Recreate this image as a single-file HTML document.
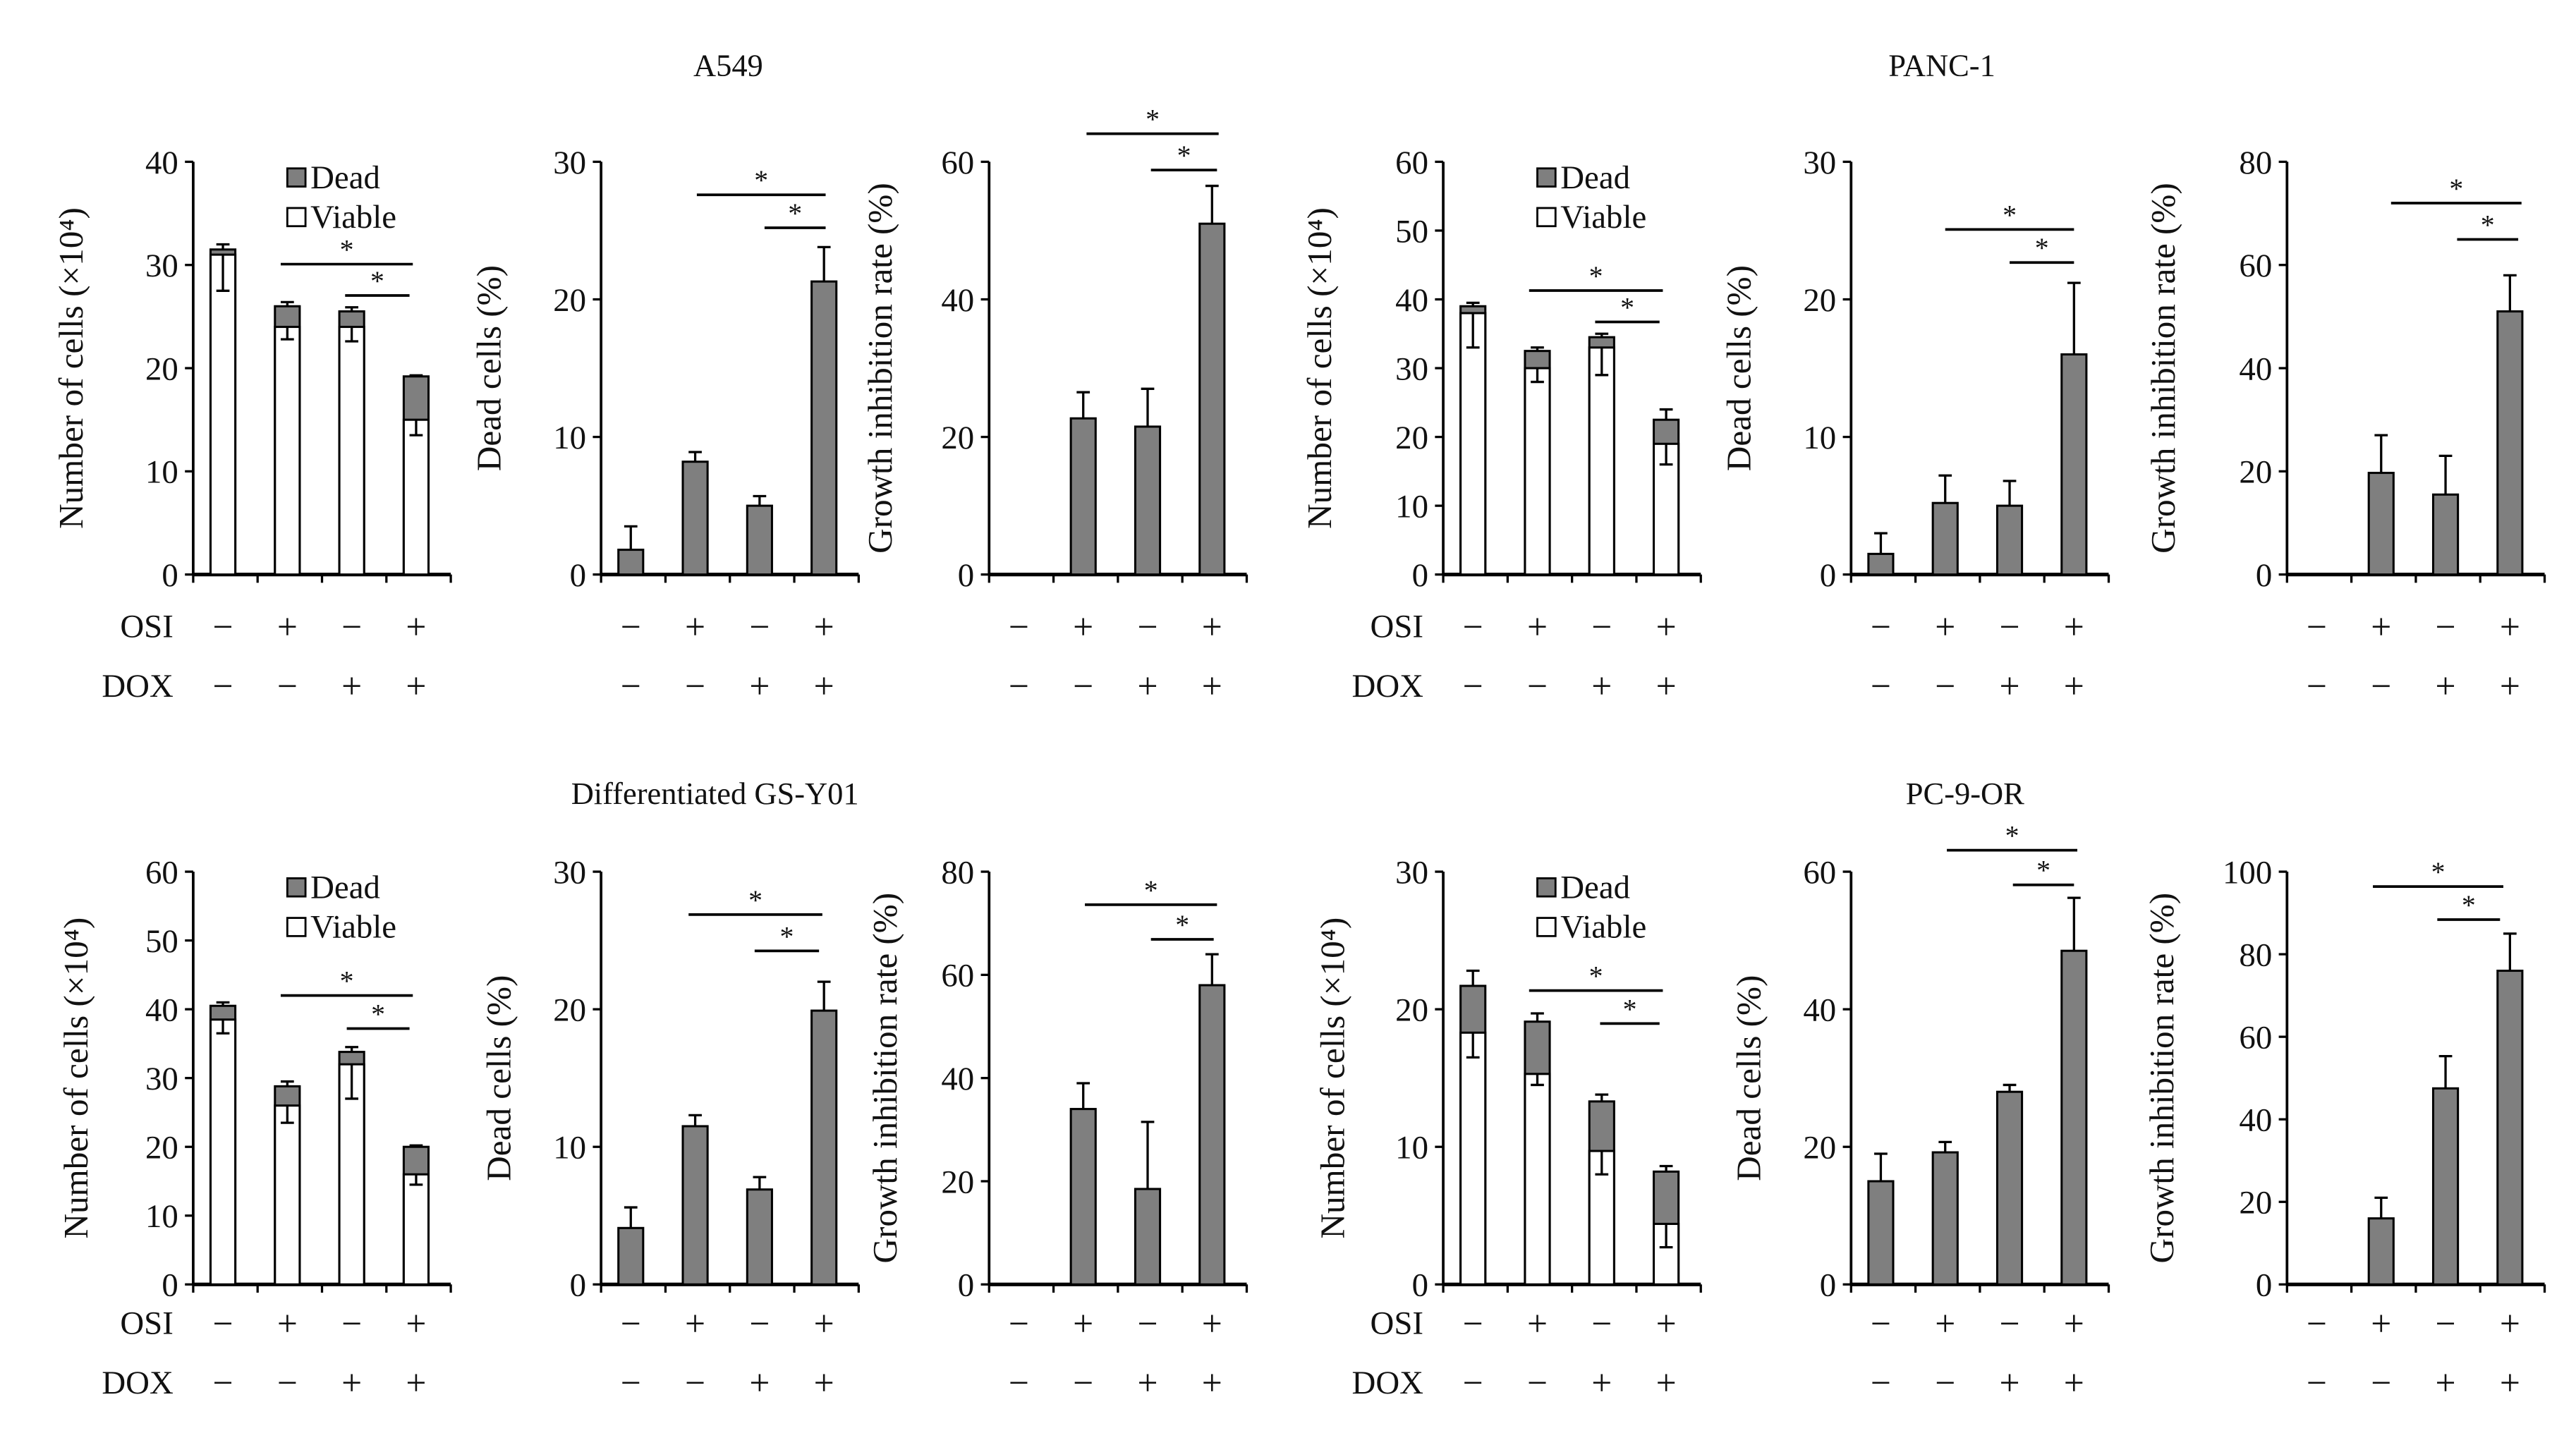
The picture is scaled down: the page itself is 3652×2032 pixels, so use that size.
<!DOCTYPE html>
<html><head><meta charset="utf-8"><style>
html,body{margin:0;padding:0;background:#fff}
svg{display:block}
text{font-family:"Liberation Serif",serif;fill:#111}
</style></head><body>
<svg id="fig" width="3652" height="2032" viewBox="0 0 1560 868" preserveAspectRatio="none">
<text x="441" y="46" font-size="19" text-anchor="middle">A549</text>
<text x="1176" y="46" font-size="19" text-anchor="middle">PANC-1</text>
<text x="433" y="487" font-size="19" text-anchor="middle">Differentiated GS-Y01</text>
<text x="1190" y="487" font-size="19" text-anchor="middle">PC-9-OR</text>
</svg>
<script>
// ---- data ----
const osiRow = ['−','+','−','+'];
const doxRow = ['−','−','+','+'];
const a549Viable = [31, 24, 24, 15];
const a549Total = [31.5, 26, 25.5, 19.2];
const a549ViableLo = [27.5, 22.8, 22.6, 13.5];
const a549TotalHi = [32, 26.4, 25.9, 19.3];
const a549Dead = [1.8, 8.2, 5, 21.3];
const a549DeadHi = [3.5, 8.9, 5.7, 23.8];
const a549GI = [0, 22.7, 21.5, 51];
const a549GIHi = [0, 26.5, 27, 56.5];

const pancViable = [38, 30, 33, 19];
const pancTotal = [39, 32.5, 34.5, 22.5];
const pancViableLo = [33, 28, 29, 16];
const pancTotalHi = [39.5, 33, 35, 24];
const pancDead = [1.5, 5.2, 5, 16];
const pancDeadHi = [3, 7.2, 6.8, 21.2];
const pancGI = [0, 19.7, 15.5, 51];
const pancGIHi = [0, 27, 23, 58];

const gsViable = [38.5, 26, 32, 16];
const gsTotal = [40.5, 28.8, 33.8, 20];
const gsViableLo = [36.5, 23.5, 27, 14.5];
const gsTotalHi = [41, 29.5, 34.5, 20.2];
const gsDead = [4.1, 11.5, 6.9, 19.9];
const gsDeadHi = [5.6, 12.3, 7.8, 22];
const gsGI = [0, 34, 18.5, 58];
const gsGIHi = [0, 39, 31.5, 64];

const pcViable = [18.3, 15.3, 9.7, 4.4];
const pcTotal = [21.7, 19.1, 13.3, 8.2];
const pcViableLo = [16.5, 14.5, 8, 2.7];
const pcTotalHi = [22.8, 19.7, 13.8, 8.6];
const pcDead = [15, 19.2, 28, 48.5];
const pcDeadHi = [19, 20.7, 29, 56.2];
const pcGI = [0, 16, 47.5, 76];
const pcGIHi = [0, 21, 55.3, 85];

const svg = document.getElementById('fig');
const NS = 'http://www.w3.org/2000/svg';
function mk(tag, attrs, parent){
  const e = document.createElementNS(NS, tag);
  for (const k in attrs) e.setAttribute(k, attrs[k]);
  (parent||svg).appendChild(e);
  return e;
}
function txt(x,y,s,size,anchor,parent){
  const t = mk('text',{x:x,y:y,'font-size':size,'text-anchor':anchor||'middle'},parent);
  t.textContent = s; return t;
}
function panel(o){
  const g = mk('g',{});
  
  
  const ax=o.ax, y0=o.y0, yt=o.yt, w=39, n=4;
  const r1=o.r1||39, r2=o.r2||75;
  const ys = v => y0 - (v/o.ymax)*(y0-yt);
  const xc = i => ax + 18 + i*w;
  const yl = mk('line',{x1:ax,y1:yt,x2:ax,y2:y0,stroke:'#000','stroke-width':1.6},g);
  
  
  const xl = mk('line',{x1:ax,y1:y0,x2:ax+n*w,y2:y0,stroke:'#000','stroke-width':2.2},g);
  
  
  for(let i=0;i<=n;i++) mk('line',{x1:ax+i*w,y1:y0,x2:ax+i*w,y2:y0+5,stroke:'#000','stroke-width':1.4},g);
  for(let v=0; v<=o.ymax+1e-9; v+=o.step){
    mk('line',{x1:ax-5,y1:ys(v),x2:ax,y2:ys(v),stroke:'#000','stroke-width':1.4},g);
    const t = txt(ax-9, ys(v)+7, String(v), 20, 'end', g);
    
    
  }
  const yt2 = txt(0,0,o.ytitle,21,'middle',g);
  yt2.setAttribute('transform','translate('+o.tx+','+((yt+y0)/2)+') rotate(-90)');
  
  
  const bw=15;
  for(let i=0;i<n;i++){
    const x=xc(i);
    if(o.viable){
      const tot = mk('rect',{x:x-bw/2,y:ys(o.total[i]),width:bw,height:ys(0)-ys(o.total[i]),fill:'#7f7f7f',stroke:'#000','stroke-width':1.3},g);
      
      
      const vb = mk('rect',{x:x-bw/2,y:ys(o.viable[i]),width:bw,height:ys(0)-ys(o.viable[i]),fill:'#fff',stroke:'#000','stroke-width':1.3},g);
      
      
      mk('path',{d:'M'+x+' '+ys(o.total[i])+'V'+ys(o.hi[i])+'M'+(x-4)+' '+ys(o.hi[i])+'H'+(x+4),stroke:'#000','stroke-width':1.4,fill:'none'},g);
      mk('path',{d:'M'+x+' '+ys(o.viable[i])+'V'+ys(o.lo[i])+'M'+(x-4)+' '+ys(o.lo[i])+'H'+(x+4),stroke:'#000','stroke-width':1.4,fill:'none'},g);
    } else {
      if(o.vals[i]>0){
        const b = mk('rect',{x:x-bw/2,y:ys(o.vals[i]),width:bw,height:ys(0)-ys(o.vals[i]),fill:'#7f7f7f',stroke:'#000','stroke-width':1.3},g);
        
        
        mk('path',{d:'M'+x+' '+ys(o.vals[i])+'V'+ys(o.hi[i])+'M'+(x-4)+' '+ys(o.hi[i])+'H'+(x+4),stroke:'#000','stroke-width':1.4,fill:'none'},g);
      }
    }
    txt(x, y0+r1, osiRow[i], 22,'middle',g);
    txt(x, y0+r2, doxRow[i], 22,'middle',g);
  }
  if(o.rowLabels){
    txt(ax-12, y0+r1-1, 'OSI', 20,'end',g);
    txt(ax-12, y0+r2-1, 'DOX', 20,'end',g);
  }
  if(o.legend){
    const lx=ax+57, ly=yt+4;
    mk('rect',{x:lx,y:ly,width:11,height:11,fill:'#7f7f7f',stroke:'#000','stroke-width':1.2},g);
    txt(lx+14, ly+12, 'Dead', 20,'start',g);
    mk('rect',{x:lx,y:ly+24,width:11,height:11,fill:'#fff',stroke:'#000','stroke-width':1.2},g);
    txt(lx+14, ly+36, 'Viable', 20,'start',g);
  }
  o.sig.forEach(s=>{
    const l = mk('line',{x1:s[0],y1:s[2],x2:s[1],y2:s[2],stroke:'#000','stroke-width':1.6},g);
    
    
    txt((s[0]+s[1])/2, s[2]-3, '*', 17,'middle',g);
  });
}
const CT='Number of cells (×10⁴)', DT='Dead cells (%)', GT='Growth inhibition rate (%)';
panel({name:'a549-cell-count',ax:117,y0:348,yt:98,ymax:40,step:10,ytitle:CT,tx:50,viable:a549Viable,total:a549Total,lo:a549ViableLo,hi:a549TotalHi,rowLabels:true,legend:true,sig:[[170,250,160],[209,248,179]]});
panel({name:'a549-dead-cells',ax:364,y0:348,yt:98,ymax:30,step:10,ytitle:DT,tx:303,vals:a549Dead,hi:a549DeadHi,sig:[[422,500,118],[463,500,138]]});
panel({name:'a549-growth-inhibition',ax:599,y0:348,yt:98,ymax:60,step:20,ytitle:GT,tx:540,vals:a549GI,hi:a549GIHi,sig:[[658,738,81],[697,737,103]]});
panel({name:'panc1-cell-count',ax:874,y0:348,yt:98,ymax:60,step:10,ytitle:CT,tx:806,viable:pancViable,total:pancTotal,lo:pancViableLo,hi:pancTotalHi,rowLabels:true,legend:true,sig:[[926,1007,176],[966,1005,195]]});
panel({name:'panc1-dead-cells',ax:1121,y0:348,yt:98,ymax:30,step:10,ytitle:DT,tx:1060,vals:pancDead,hi:pancDeadHi,sig:[[1178,1256,139],[1217,1256,159]]});
panel({name:'panc1-growth-inhibition',ax:1385,y0:348,yt:98,ymax:80,step:20,ytitle:GT,tx:1317,vals:pancGI,hi:pancGIHi,sig:[[1448,1527,123],[1488,1525,145]]});
panel({name:'gs-y01-cell-count',ax:117,y0:778,yt:528,ymax:60,step:10,ytitle:CT,tx:53,viable:gsViable,total:gsTotal,lo:gsViableLo,hi:gsTotalHi,rowLabels:true,legend:true,r1:31,r2:67,sig:[[170,250,603],[210,248,623]]});
panel({name:'gs-y01-dead-cells',ax:364,y0:778,yt:528,ymax:30,step:10,ytitle:DT,tx:309,vals:gsDead,hi:gsDeadHi,r1:31,r2:67,sig:[[417,498,554],[457,496,576]]});
panel({name:'gs-y01-growth-inhibition',ax:599,y0:778,yt:528,ymax:80,step:20,ytitle:GT,tx:543,vals:gsGI,hi:gsGIHi,r1:31,r2:67,sig:[[657,737,548],[697,735,569]]});
panel({name:'pc9or-cell-count',ax:874,y0:778,yt:528,ymax:30,step:10,ytitle:CT,tx:814,viable:pcViable,total:pcTotal,lo:pcViableLo,hi:pcTotalHi,rowLabels:true,legend:true,r1:31,r2:67,sig:[[926,1007,600],[969,1005,620]]});
panel({name:'pc9or-dead-cells',ax:1121,y0:778,yt:528,ymax:60,step:20,ytitle:DT,tx:1066,vals:pcDead,hi:pcDeadHi,r1:31,r2:67,sig:[[1179,1258,515],[1219,1256,536]]});
panel({name:'pc9or-growth-inhibition',ax:1385,y0:778,yt:528,ymax:100,step:20,ytitle:GT,tx:1316,vals:pcGI,hi:pcGIHi,r1:31,r2:67,sig:[[1437,1516,537],[1476,1514,557]]});
</script>
</body></html>
